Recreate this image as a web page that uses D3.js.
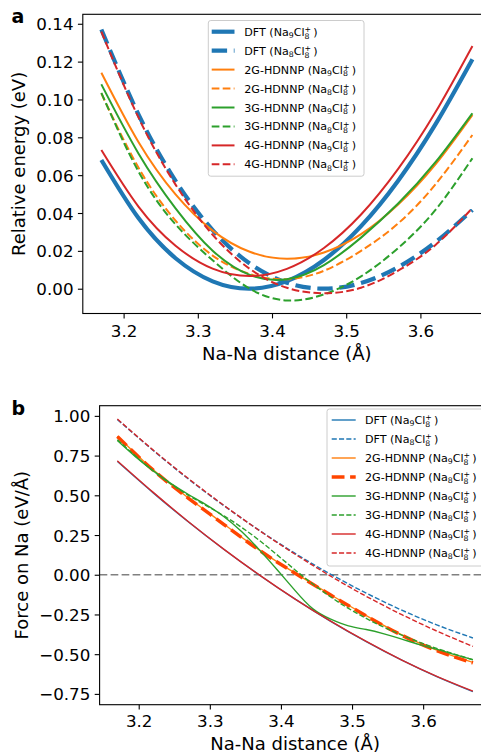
<!DOCTYPE html>
<html><head><meta charset="utf-8">
<script src="https://cdn.jsdelivr.net/npm/d3@7"></script>
<style>body{margin:0;background:#fff}svg{display:block;font-family:"DejaVu Sans",sans-serif}</style>
</head><body>
<script>
// ---------- data ----------
const distance = [3.17,3.22,3.27,3.32,3.37,3.42,3.47,3.52,3.57,3.62,3.67];
const distanceFine = [3.17,3.195,3.22,3.245,3.27,3.295,3.32,3.345,3.37,3.395,3.42,3.445,3.47,3.495,3.52,3.545,3.57,3.595,3.62,3.645,3.67];

const methods = ["DFT","2G-HDNNP","3G-HDNNP","4G-HDNNP"];
const naCounts = ["9","8"];

// panel a: relative energy (eV)
const energyDftNa9 = [0.0680,0.0373,0.0161,0.0039,0.0000,0.0040,0.0152,0.0331,0.0571,0.0867,0.1212];
const energyDftNa8 = [0.1370,0.0921,0.0570,0.0310,0.0133,0.0032,0.0000,0.0030,0.0114,0.0245,0.0416];
const energy2gNa9  = [0.1141,0.0775,0.0498,0.0307,0.0195,0.0158,0.0191,0.0288,0.0445,0.0656,0.0918];
const energy2gNa8  = [0.1032,0.0640,0.0360,0.0175,0.0078,0.0050,0.0095,0.0200,0.0345,0.0550,0.0812];
const energy3gNa9  = [0.1080,0.0715,0.0425,0.0201,0.0073,0.0050,0.0125,0.0270,0.0450,0.0667,0.0927];
const energy3gNa8  = [0.1035,0.0620,0.0340,0.0150,0.0000,-0.0062,-0.0030,0.0065,0.0215,0.0415,0.0689];
const energy4gNa9  = [0.0733,0.0434,0.0227,0.0106,0.0067,0.0105,0.0215,0.0392,0.0633,0.0931,0.1282];
const energy4gNa8  = [0.1358,0.0905,0.0550,0.0285,0.0105,0.0005,-0.0024,0.0005,0.0095,0.0230,0.0426];

// panel b: force on Na (eV/Å)
const forceDftNa9 = [0.713,0.517,0.332,0.159,-0.003,-0.154,-0.293,-0.421,-0.538,-0.643,-0.736];
const forceDftNa8 = [0.977,0.784,0.602,0.434,0.278,0.134,0.003,-0.116,-0.223,-0.317,-0.398];
const force2gNa9  = [0.872,0.662,0.483,0.318,0.155,0.010,-0.126,-0.257,-0.378,-0.476,-0.552];
const force2gNa8  = [0.870,0.660,0.481,0.316,0.153,0.009,-0.128,-0.259,-0.381,-0.479,-0.555];
const force3gNa9  = [0.845,0.745,0.655,0.575,0.505,0.440,0.365,0.270,0.155,0.030,-0.100,-0.215,-0.280,-0.322,-0.345,-0.372,-0.405,-0.440,-0.470,-0.503,-0.535];
const force3gNa8  = [0.850,0.655,0.500,0.370,0.215,0.030,-0.140,-0.275,-0.380,-0.465,-0.535];
const force4gNa9  = [0.717,0.520,0.334,0.160,-0.002,-0.153,-0.292,-0.420,-0.537,-0.641,-0.733];
const force4gNa8  = [0.980,0.786,0.605,0.436,0.277,0.129,-0.009,-0.136,-0.251,-0.356,-0.451];

const xTicks = [3.2,3.3,3.4,3.5,3.6];
const yTicksEnergy = [0,0.02,0.04,0.06,0.08,0.10,0.12,0.14];
const yTicksForce = [-0.75,-0.5,-0.25,0,0.25,0.5,0.75,1.0];

// ---------- drawing ----------
const FONT = "DejaVu Sans";
const TICK_FS = 16.7, LABEL_FS = 18, LEG_FS = 11.1;
const svg = d3.select("body").append("svg").attr("width",481).attr("height",754);
const COL = {blue:"#1f77b4",orange:"#ff7f0e",green:"#2ca02c",red:"#d62728",orangered:"#ff4500"};

const xA = d3.scaleLinear().domain([3.145,3.695]).range([82.8,490.9]);
const yA = d3.scaleLinear().domain([-0.0131,0.1450]).range([313.5,14.3]);
const xB = d3.scaleLinear().domain([3.145,3.695]).range([99.6,490.7]);
const yB = d3.scaleLinear().domain([-0.818,1.064]).range([704.7,405.7]);

const thinDashA = "7.7,3.3", thickDashA = "15.4,6.7";
const thinDashB = "5.1,2.2", thickDashB = "12.8,5.6";

const seriesA = [
  {m:0,n:0,xs:distance,v:energyDftNa9,c:COL.blue,w:4.2,d:null},
  {m:0,n:1,xs:distance,v:energyDftNa8,c:COL.blue,w:4.2,d:thickDashA},
  {m:1,n:0,xs:distance,v:energy2gNa9,c:COL.orange,w:2,d:null},
  {m:1,n:1,xs:distance,v:energy2gNa8,c:COL.orange,w:2,d:thinDashA},
  {m:2,n:0,xs:distance,v:energy3gNa9,c:COL.green,w:2,d:null},
  {m:2,n:1,xs:distance,v:energy3gNa8,c:COL.green,w:2,d:thinDashA},
  {m:3,n:0,xs:distance,v:energy4gNa9,c:COL.red,w:2,d:null},
  {m:3,n:1,xs:distance,v:energy4gNa8,c:COL.red,w:2,d:thinDashA}
];
const seriesB = [
  {m:0,n:0,xs:distance,v:forceDftNa9,c:COL.blue,w:1.4,d:null},
  {m:0,n:1,xs:distance,v:forceDftNa8,c:COL.blue,w:1.4,d:thinDashB},
  {m:1,n:0,xs:distance,v:force2gNa9,c:COL.orange,w:1.4,d:null},
  {m:1,n:1,xs:distance,v:force2gNa8,c:COL.orangered,w:3.5,d:thickDashB},
  {m:2,n:0,xs:distanceFine,v:force3gNa9,c:COL.green,w:1.4,d:null},
  {m:2,n:1,xs:distance,v:force3gNa8,c:COL.green,w:1.4,d:thinDashB},
  {m:3,n:0,xs:distance,v:force4gNa9,c:COL.red,w:1.4,d:null},
  {m:3,n:1,xs:distance,v:force4gNa8,c:COL.red,w:1.4,d:thinDashB}
];

function drawLines(g, x, y, series){
  const line = d3.line().x(d=>x(d[0])).y(d=>y(d[1])).curve(d3.curveNatural);
  series.forEach(s=>{
    g.append("path").datum(s.xs.map((xv,i)=>[xv,s.v[i]]))
      .attr("d",line).attr("fill","none").attr("stroke",s.c)
      .attr("stroke-width",s.w).attr("stroke-dasharray",s.d)
      .attr("stroke-linecap","butt").attr("stroke-linejoin","round");
  });
}

function drawAxes(g, x, y, yTicks, xLabel, yLabel, yLabelX, xLabelY, tickTextY){
  const [x0,x1] = x.range(); const [y0,y1] = y.range();
  const ax = g.append("g").attr("transform",`translate(0,${y0})`)
    .call(d3.axisBottom(x).tickValues(xTicks).tickFormat(d3.format(".1f")).tickSize(4.9).tickSizeOuter(0));
  ax.attr("font-size",TICK_FS).attr("font-family",FONT);
  ax.select(".domain").remove();
  ax.selectAll(".tick line").attr("stroke","#000").attr("stroke-width",1.1);
  ax.selectAll(".tick text").attr("y",tickTextY).attr("dy",null).attr("fill","#000");

  const ay = g.append("g").attr("transform",`translate(${x0},0)`)
    .call(d3.axisLeft(y).tickValues(yTicks).tickFormat(d3.format(".2f")).tickSize(4.9).tickSizeOuter(0));
  ay.attr("font-size",TICK_FS).attr("font-family",FONT);
  ay.select(".domain").remove();
  ay.selectAll(".tick line").attr("stroke","#000").attr("stroke-width",1.1);
  ay.selectAll(".tick text").attr("x",-9.3).attr("dy","0.36em").attr("fill","#000");

  g.append("rect").attr("x",x0).attr("y",y1).attr("width",x1-x0).attr("height",y0-y1)
    .attr("fill","none").attr("stroke","#000").attr("stroke-width",1.1);

  g.append("text").attr("x",(x0+x1)/2).attr("y",xLabelY).attr("text-anchor","middle")
    .attr("font-size",LABEL_FS).attr("font-family",FONT).text(xLabel);
  const cy = (y0+y1)/2;
  g.append("text").attr("transform",`translate(${yLabelX},${cy}) rotate(-90)`)
    .attr("text-anchor","middle").attr("font-size",LABEL_FS).attr("font-family",FONT).text(yLabel);
}

function writeLabel(t, method, na, fs){
  const s = fs*0.7;
  t.append("tspan").text(method+" (Na");
  t.append("tspan").attr("font-size",s).attr("dy",fs*0.2).text(na);
  t.append("tspan").attr("dy",-fs*0.2).text("Cl");
  t.append("tspan").attr("font-size",s).attr("dy",fs*0.26).text("8");
  t.append("tspan").attr("font-size",s).attr("dx",-s*0.636).attr("dy",-fs*0.6).text("+");
  t.append("tspan").attr("dx",fs*0.2).attr("dy",fs*0.34).text(")");
}

function drawLegend(g, box, rowY0, rowStep, hx0, hx1, tx, series, fs){
  g.append("rect").attr("x",box[0]).attr("y",box[1]).attr("width",box[2]).attr("height",box[3])
    .attr("rx",2.5).attr("fill","#fff").attr("fill-opacity",0.8)
    .attr("stroke","#cccccc").attr("stroke-width",1);
  series.forEach((s,i)=>{
    const yy = rowY0 + i*rowStep;
    g.append("line").attr("x1",hx0).attr("x2",hx1).attr("y1",yy).attr("y2",yy)
      .attr("stroke",s.c).attr("stroke-width",s.w).attr("stroke-dasharray",s.d);
    const t = g.append("text").attr("x",tx).attr("y",yy+4).attr("font-size",fs)
      .attr("font-family",FONT).attr("fill","#000");
    writeLabel(t, methods[s.m], naCounts[s.n], fs);
  });
}

// panel a
const gA = svg.append("g");
drawLines(gA, xA, yA, seriesA);
drawAxes(gA, xA, yA, yTicksEnergy, "Na-Na distance (Å)", "Relative energy (eV)", 25, 360, 23.2);
drawLegend(gA, [208.3,20.5,155.7,155.7], 31.7, 18.95, 211.7, 234.5, 244.3, seriesA, LEG_FS);
svg.append("text").attr("x",11.5).attr("y",22.7).attr("font-size",19).attr("font-weight","bold")
  .attr("font-family",FONT).text("a");

// panel b
const gB = svg.append("g");
gB.append("line").attr("x1",xB.range()[0]).attr("x2",xB.range()[1])
  .attr("y1",yB(0)).attr("y2",yB(0)).attr("stroke","#808080").attr("stroke-width",1.5)
  .attr("stroke-dasharray","7.7,3.3");
drawLines(gB, xB, yB, seriesB);
drawAxes(gB, xB, yB, yTicksForce, "Na-Na distance (Å)", "Force on Na (eV/Å)", 27.5, 749.5, 22);
drawLegend(gB, [327,409,160,157], 420, 19, 331.7, 355.7, 365, seriesB, LEG_FS);
svg.append("text").attr("x",11.5).attr("y",415).attr("font-size",19).attr("font-weight","bold")
  .attr("font-family",FONT).text("b");
</script>
</body></html>
